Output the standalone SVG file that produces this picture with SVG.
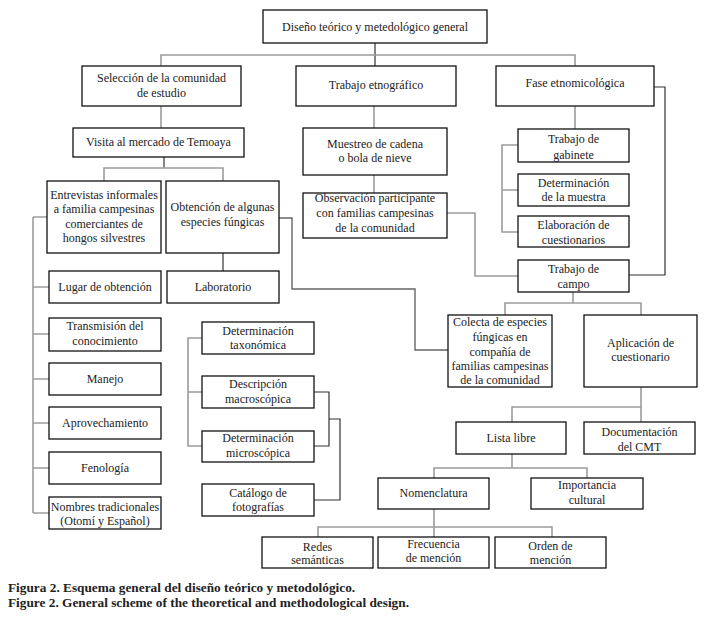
<svg xmlns="http://www.w3.org/2000/svg" width="712" height="617" viewBox="0 0 712 617">
<style>
.b{fill:#fff;stroke:#111;stroke-width:1.3}
.t{font-family:"Liberation Serif","DejaVu Serif",serif;font-size:12px;fill:#222;text-anchor:middle}
.cap{font-family:"Liberation Serif","DejaVu Serif",serif;font-size:13.3px;font-weight:bold;fill:#222}
.g{fill:none;stroke:#9c9c9c;stroke-width:1.6}
.k{fill:none;stroke:#333;stroke-width:1.2}
.d{fill:none;stroke:#666;stroke-width:1.4}
</style>
<rect width="712" height="617" fill="#fff"/>
<g id="connectors">
<path class="k" d="M375,43 V66"/>
<path class="g" d="M161,66 V55 H575 V66"/>
<path class="g" d="M161,106 V128"/>
<path class="k" d="M164,157 V168"/>
<path class="g" d="M104,181 V168 H223 V181"/>
<path class="g" d="M33,217 V513 M33,217 H47 M33,287 H49 M33,334 H49 M33,379 H49 M33,423 H49 M33,468 H49 M33,513 H49"/>
<path class="k" d="M223,253 V271"/>
<path class="d" d="M279,218 H292 V289 H415 V350 H448"/>
<path class="g" d="M374,106 V128"/>
<path class="g" d="M374,175 V193"/>
<path class="g" d="M447,213 H475 V276 H518"/>
<path class="g" d="M575,106 V129"/>
<path class="g" d="M518,145 H502 V232 H518 M502,190 H518"/>
<path class="k" d="M654,87 H665 V275 H629"/>
<path class="g" d="M573,292 V303 M505,315 V303 H641 V315"/>
<path class="g" d="M641,387 V422 M512,422 V407 H641"/>
<path class="g" d="M512,454 V468 M434,478 V468 H587 V478"/>
<path class="g" d="M434,509 V537 M318,537 V527 H552 V537"/>
<path class="g" d="M202,338 H188 V446 H202 M188,392 H202"/>
<path class="k" d="M314,392 H329 V446 H314 M329,419 H340 V500 H314"/>
</g>
<g id="n-top"><rect class="b" x="263" y="10" width="224" height="33"/><text class="t" x="375" y="31">Diseño teórico y metedológico general</text></g>
<g id="n-seleccion"><rect class="b" x="82" y="66" width="159" height="40"/><text class="t" x="161.5" y="82">Selección de la comunidad</text><text class="t" x="161.5" y="97">de estudio</text></g>
<g id="n-etno"><rect class="b" x="296" y="66" width="160" height="40"/><text class="t" x="376" y="89">Trabajo etnográfico</text></g>
<g id="n-fase"><rect class="b" x="496" y="66" width="158" height="40"/><text class="t" x="575" y="87">Fase etnomicológica</text></g>
<g id="n-visita"><rect class="b" x="73" y="128" width="171" height="29"/><text class="t" x="158.5" y="146">Visita al mercado de Temoaya</text></g>
<g id="n-muestreo"><rect class="b" x="303" y="128" width="144" height="47"/><text class="t" x="375" y="148">Muestreo de cadena</text><text class="t" x="375" y="162">o bola de nieve</text></g>
<g id="n-gabinete"><rect class="b" x="518" y="129" width="111" height="33"/><text class="t" x="573.5" y="143">Trabajo de</text><text class="t" x="573.5" y="159">gabinete</text></g>
<g id="n-entrevistas"><rect class="b" x="47" y="181" width="114" height="72"/><text class="t" x="104" y="199">Entrevistas informales</text><text class="t" x="104" y="213">a familia campesinas</text><text class="t" x="104" y="228">comerciantes de</text><text class="t" x="104" y="242">hongos silvestres</text></g>
<g id="n-obtencion"><rect class="b" x="166" y="181" width="113" height="72"/><text class="t" x="222.5" y="211">Obtención de algunas</text><text class="t" x="222.5" y="226">especies fúngicas</text></g>
<g id="n-observacion"><rect class="b" x="303" y="193" width="144" height="45"/><text class="t" x="375" y="202">Observación participante</text><text class="t" x="375" y="217">con familias campesinas</text><text class="t" x="375" y="232">de la comunidad</text></g>
<g id="n-muestra"><rect class="b" x="518" y="174" width="111" height="32"/><text class="t" x="573.5" y="187">Determinación</text><text class="t" x="573.5" y="201">de la muestra</text></g>
<g id="n-cuestionarios"><rect class="b" x="518" y="216" width="111" height="31"/><text class="t" x="573.5" y="229">Elaboración de</text><text class="t" x="573.5" y="244">cuestionarios</text></g>
<g id="n-campo"><rect class="b" x="518" y="260" width="111" height="32"/><text class="t" x="573.5" y="273">Trabajo de</text><text class="t" x="573.5" y="288">campo</text></g>
<g id="n-lugar"><rect class="b" x="49" y="271" width="112" height="32"/><text class="t" x="105" y="291">Lugar de obtención</text></g>
<g id="n-laboratorio"><rect class="b" x="167" y="271" width="112" height="32"/><text class="t" x="223" y="291">Laboratorio</text></g>
<g id="n-colecta"><rect class="b" x="448" y="315" width="104" height="72"/><text class="t" x="500" y="326">Colecta de especies</text><text class="t" x="500" y="341">fúngicas en</text><text class="t" x="500" y="356">compañía de</text><text class="t" x="500" y="370">familias campesinas</text><text class="t" x="500" y="384">de la comunidad</text></g>
<g id="n-aplicacion"><rect class="b" x="584" y="315" width="113" height="72"/><text class="t" x="640.5" y="347">Aplicación de</text><text class="t" x="640.5" y="361">cuestionario</text></g>
<g id="n-transmision"><rect class="b" x="49" y="318" width="112" height="33"/><text class="t" x="105" y="330">Transmisión del</text><text class="t" x="105" y="345">conocimiento</text></g>
<g id="n-taxonomica"><rect class="b" x="202" y="322" width="112" height="32"/><text class="t" x="258" y="335">Determinación</text><text class="t" x="258" y="349">taxonómica</text></g>
<g id="n-manejo"><rect class="b" x="49" y="363" width="112" height="32"/><text class="t" x="105" y="383">Manejo</text></g>
<g id="n-macro"><rect class="b" x="202" y="376" width="112" height="32"/><text class="t" x="258" y="388">Descripción</text><text class="t" x="258" y="403">macroscópica</text></g>
<g id="n-aprovechamiento"><rect class="b" x="49" y="407" width="112" height="32"/><text class="t" x="105" y="427">Aprovechamiento</text></g>
<g id="n-lista"><rect class="b" x="456" y="422" width="110" height="32"/><text class="t" x="511" y="442">Lista libre</text></g>
<g id="n-documentacion"><rect class="b" x="584" y="422" width="111" height="32"/><text class="t" x="639.5" y="436">Documentación</text><text class="t" x="639.5" y="451">del CMT</text></g>
<g id="n-micro"><rect class="b" x="202" y="431" width="112" height="31"/><text class="t" x="258" y="442">Determinación</text><text class="t" x="258" y="457">microscópica</text></g>
<g id="n-fenologia"><rect class="b" x="49" y="452" width="112" height="32"/><text class="t" x="105" y="472">Fenología</text></g>
<g id="n-catalogo"><rect class="b" x="202" y="484" width="112" height="32"/><text class="t" x="258" y="497">Catálogo de</text><text class="t" x="258" y="511">fotografías</text></g>
<g id="n-nombres"><rect class="b" x="49" y="497" width="112" height="32"/><text class="t" x="105" y="511">Nombres tradicionales</text><text class="t" x="105" y="525">(Otomí y Español)</text></g>
<g id="n-nomenclatura"><rect class="b" x="378" y="478" width="111" height="31"/><text class="t" x="433.5" y="497">Nomenclatura</text></g>
<g id="n-importancia"><rect class="b" x="531" y="478" width="112" height="31"/><text class="t" x="587" y="489">Importancia</text><text class="t" x="587" y="504">cultural</text></g>
<g id="n-redes"><rect class="b" x="262" y="537" width="111" height="31"/><text class="t" x="317.5" y="551">Redes</text><text class="t" x="317.5" y="564">semánticas</text></g>
<g id="n-frecuencia"><rect class="b" x="378" y="537" width="111" height="31"/><text class="t" x="433.5" y="548">Frecuencia</text><text class="t" x="433.5" y="562">de mención</text></g>
<g id="n-orden"><rect class="b" x="495" y="537" width="111" height="31"/><text class="t" x="550.5" y="550">Orden de</text><text class="t" x="550.5" y="564">mención</text></g>
<g id="caption"><text class="cap" x="8" y="592">Figura 2. Esquema general del diseño teórico y metodológico.</text><text class="cap" x="8" y="607">Figure 2. General scheme of the theoretical and methodological design.</text></g>
</svg>
